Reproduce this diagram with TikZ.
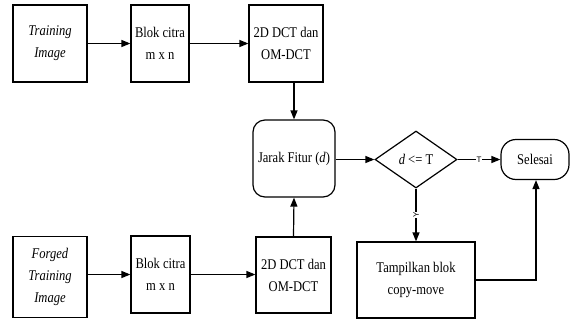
\documentclass[tikz,border=0pt]{standalone}
\usepackage{fontspec}
\setmainfont{Liberation Serif}[FakeStretch=0.85]
\setsansfont{Liberation Sans}
\usetikzlibrary{shapes.geometric,arrows.meta}

\tikzset{
  box/.style={draw, line width=1.2pt, inner sep=0pt, align=center,
    font=\fontsize{14.8}{22}\selectfont},
  roundbox/.style={box, rounded corners=12pt},
  decision/.style={box, diamond, aspect=1.44},
  flow/.style={line width=1.2pt, -{Triangle[length=9pt,width=7pt]}},
  branch/.style={fill=white, inner sep=0.8pt, font=\sffamily\fontsize{8}{8}\selectfont}
}

\begin{document}
\begin{tikzpicture}[x=1pt, y=-1pt]
  \useasboundingbox (0,0) rectangle (571,322);

  % upper branch
  \node[box, minimum width=74pt, minimum height=77pt] (train) at (50,43.5) {\textit{Training}\\\textit{Image}};
  \node[box, minimum width=58pt, minimum height=77pt] (blok1) at (160,43.5) {Blok citra\\m x n};
  \node[box, minimum width=74pt, minimum height=77pt] (dct1) at (286,43.5) {2D DCT dan\\OM-DCT};

  % feature distance and decision
  \node[roundbox, minimum width=82pt, minimum height=77pt] (jarak) at (294,158.5) {Jarak Fitur (\textit{d})};
  \node[decision, minimum width=82pt, minimum height=57pt] (cek) at (416,159.5) {\textit{d} <= T};
  \node[box, rounded corners=15pt, minimum width=68pt, minimum height=40pt] (selesai) at (535,159.5) {Selesai};
  \node[box, minimum width=118pt, minimum height=76pt] (tampil) at (416,280) {Tampilkan blok\\copy-move};

  % lower branch
  \node[box, minimum width=74pt, minimum height=81pt] (forged) at (50,277) {\textit{Forged}\\\textit{Training}\\\textit{Image}};
  \node[box, minimum width=59pt, minimum height=77pt] (blok2) at (160.5,274.5) {Blok citra\\m x n};
  \node[box, minimum width=75pt, minimum height=76pt] (dct2) at (293.5,275) {2D DCT dan\\OM-DCT};

  % connectors
  \draw[flow] (train.east |- blok1) -- (blok1.west);
  \draw[flow] (blok1.east) -- (dct1.west |- blok1);
  \draw[flow] (jarak.north |- dct1.south) -- (jarak.north);

  \draw[flow] (forged.east |- blok2) -- (blok2.west);
  \draw[flow] (blok2.east) -- (dct2.west |- blok2);
  \draw[flow] (dct2.north) -- (jarak.south);

  \draw[flow] (jarak.east |- cek) -- (cek.west);
  \draw[flow] (cek.east) -- node[branch] {T} (selesai.west |- cek);
  \draw[flow] (cek.south) -- node[branch, rotate=90] {Y} (tampil.north);
  \draw[flow] (tampil.east) -| ([xshift=1pt]selesai.south);
\end{tikzpicture}
\end{document}
